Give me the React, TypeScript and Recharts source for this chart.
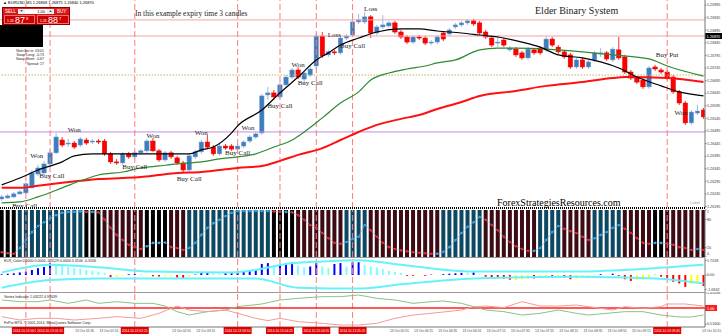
import React from 'react';
import { ComposedChart, Bar, Line, XAxis, YAxis, ReferenceLine, ReferenceDot, Cell } from 'recharts';

// ---------- main price data (EURUSD M5) ----------
const opens = [1.26225,1.26229,1.26233,1.26245,1.26249,1.26269,1.26324,1.26328,1.26364,1.26408,1.26459,1.26443,1.26447,1.26439,1.26459,1.26451,1.26455,1.26455,1.26404,1.26372,1.26368,1.26404,1.26392,1.26408,1.26416,1.26455,1.26416,1.26380,1.26408,1.26388,1.26368,1.26340,1.26392,1.26412,1.26451,1.26431,1.26404,1.26435,1.26435,1.26423,1.26435,1.26455,1.26471,1.26487,1.26638,1.26646,1.26630,1.26678,1.26709,1.26737,1.26701,1.26717,1.26753,1.26872,1.26797,1.26809,1.26805,1.26864,1.26876,1.26928,1.26928,1.26948,1.26884,1.26908,1.26912,1.26924,1.26888,1.26868,1.26848,1.26868,1.26864,1.26844,1.26848,1.26884,1.26880,1.26908,1.26916,1.26924,1.26932,1.26924,1.26888,1.26864,1.26844,1.26856,1.26817,1.26820,1.26805,1.26785,1.26817,1.26824,1.26817,1.26860,1.26828,1.26809,1.26797,1.26749,1.26777,1.26749,1.26777,1.26801,1.26805,1.26777,1.26817,1.26789,1.26729,1.26705,1.26697,1.26670,1.26749,1.26737,1.26729,1.26709,1.26650,1.26606,1.26527,1.26566,1.26578];
const highs = [1.26241,1.26245,1.26253,1.26261,1.26293,1.26340,1.26360,1.26376,1.26420,1.26487,1.26471,1.26463,1.26455,1.26471,1.26467,1.26463,1.26463,1.26463,1.26412,1.26384,1.26412,1.26412,1.26416,1.26423,1.26463,1.26467,1.26423,1.26416,1.26416,1.26396,1.26376,1.26404,1.26420,1.26459,1.26479,1.26439,1.26443,1.26443,1.26443,1.26443,1.26459,1.26479,1.26491,1.26642,1.26670,1.26658,1.26689,1.26717,1.26745,1.26749,1.26733,1.26753,1.26884,1.26888,1.26817,1.26817,1.26872,1.26880,1.26951,1.26959,1.26967,1.26955,1.26916,1.26955,1.26932,1.26932,1.26896,1.26876,1.26876,1.26876,1.26872,1.26856,1.26876,1.26892,1.26904,1.26924,1.26932,1.26940,1.26940,1.26932,1.26896,1.26872,1.26876,1.26864,1.26832,1.26828,1.26813,1.26828,1.26824,1.26832,1.26872,1.26868,1.26836,1.26817,1.26805,1.26785,1.26785,1.26777,1.26813,1.26824,1.26813,1.26828,1.26868,1.26797,1.26737,1.26713,1.26705,1.26753,1.26757,1.26745,1.26737,1.26717,1.26658,1.26614,1.26578,1.26598,1.26586];
const lows = [1.26217,1.26225,1.26229,1.26241,1.26245,1.26265,1.26316,1.26320,1.26356,1.26404,1.26431,1.26431,1.26423,1.26431,1.26439,1.26443,1.26443,1.26396,1.26364,1.26360,1.26360,1.26384,1.26384,1.26400,1.26408,1.26412,1.26372,1.26372,1.26384,1.26360,1.26328,1.26332,1.26384,1.26404,1.26423,1.26396,1.26396,1.26420,1.26416,1.26416,1.26427,1.26447,1.26463,1.26479,1.26618,1.26618,1.26622,1.26670,1.26701,1.26701,1.26681,1.26709,1.26741,1.26785,1.26789,1.26797,1.26797,1.26856,1.26868,1.26920,1.26920,1.26864,1.26876,1.26900,1.26904,1.26880,1.26860,1.26840,1.26840,1.26856,1.26836,1.26836,1.26840,1.26852,1.26872,1.26900,1.26908,1.26916,1.26912,1.26876,1.26860,1.26828,1.26828,1.26828,1.26809,1.26789,1.26777,1.26777,1.26797,1.26797,1.26809,1.26828,1.26801,1.26781,1.26741,1.26741,1.26741,1.26741,1.26769,1.26789,1.26773,1.26769,1.26777,1.26721,1.26697,1.26681,1.26662,1.26662,1.26733,1.26721,1.26697,1.26642,1.26598,1.26519,1.26519,1.26558,1.26543];
const closes = [1.26233,1.26237,1.26245,1.26253,1.26285,1.26328,1.26348,1.26364,1.26408,1.26471,1.26439,1.26447,1.26431,1.26463,1.26447,1.26455,1.26451,1.26404,1.26372,1.26368,1.26404,1.26392,1.26408,1.26416,1.26455,1.26416,1.26380,1.26408,1.26392,1.26368,1.26340,1.26396,1.26412,1.26451,1.26431,1.26404,1.26435,1.26427,1.26423,1.26435,1.26451,1.26471,1.26483,1.26634,1.26646,1.26630,1.26678,1.26709,1.26737,1.26709,1.26725,1.26741,1.26872,1.26793,1.26809,1.26805,1.26864,1.26872,1.26928,1.26936,1.26948,1.26884,1.26908,1.26916,1.26924,1.26888,1.26868,1.26848,1.26868,1.26864,1.26844,1.26848,1.26868,1.26860,1.26896,1.26916,1.26924,1.26932,1.26920,1.26884,1.26868,1.26836,1.26848,1.26836,1.26824,1.26797,1.26785,1.26820,1.26805,1.26805,1.26860,1.26836,1.26809,1.26789,1.26749,1.26777,1.26749,1.26769,1.26805,1.26805,1.26781,1.26820,1.26785,1.26729,1.26705,1.26689,1.26670,1.26745,1.26741,1.26729,1.26705,1.26650,1.26606,1.26527,1.26570,1.26574,1.26551];

// moving averages, read at sample candles: [candle index, price]
const fastMA: [number, number][] = [[0,1.26281],[3,1.26308],[6,1.26340],[10,1.26372],[12,1.26396],[15,1.26404],[23,1.26404],[31,1.26404],[33,1.26420],[35,1.26431],[38,1.26487],[39,1.26515],[43,1.26578],[46,1.26646],[49,1.26709],[52,1.26777],[54,1.26805],[56,1.26836],[59,1.26864],[62,1.26888],[66,1.26900],[69,1.26900],[72,1.26892],[76,1.26884],[79,1.26876],[82,1.26868],[86,1.26848],[89,1.26828],[92,1.26797],[96,1.26785],[99,1.26769],[102,1.26745],[105,1.26709],[109,1.26674],[112,1.26650],[116,1.26634]];
const midMA: [number, number][] = [[0,1.26209],[3,1.26213],[6,1.26233],[10,1.26269],[13,1.26297],[16,1.26320],[20,1.26332],[23,1.26348],[26,1.26356],[29,1.26364],[33,1.26372],[36,1.26384],[39,1.26392],[42,1.26404],[45,1.26431],[48,1.26459],[50,1.26491],[53,1.26547],[56,1.26606],[59,1.26650],[61,1.26697],[64,1.26725],[67,1.26741],[70,1.26753],[72,1.26765],[75,1.26777],[79,1.26817],[82,1.26824],[85,1.26824],[90,1.26820],[96,1.26809],[101,1.26797],[107,1.26781],[110,1.26753],[116,1.26713]];
const slowMA: [number, number][] = [[0,1.26269],[3,1.26269],[6,1.26277],[10,1.26289],[13,1.26297],[16,1.26304],[20,1.26308],[23,1.26312],[26,1.26320],[29,1.26328],[33,1.26332],[36,1.26340],[39,1.26348],[43,1.26356],[46,1.26376],[49,1.26400],[53,1.26427],[56,1.26459],[59,1.26491],[62,1.26519],[66,1.26543],[69,1.26558],[72,1.26582],[76,1.26610],[79,1.26634],[85,1.26654],[90,1.26674],[96,1.26689],[101,1.26705],[103,1.26709],[110,1.26705],[116,1.26689]];

const priceTicks = [1.26195,1.26245,1.26295,1.26345,1.26395,1.26445,1.26495,1.26545,1.26595,1.26645,1.26695,1.26745,1.26795,1.26845,1.26895,1.26945,1.26995];
const currentPrice = 1.26872;
const currentPriceLabel = '1.26870';
const pinkLevels = [1.26936, 1.26872];
const purpleLevel = 1.26491;
const dottedLevel = 1.26717;

// vertical expiry lines (candle index) and their time tags
const vlineIdx = [4, 8, 22, 39, 46, 52, 58, 110];
const vlineLabels = ['2014.10.13 00:55','2014.10.13 01:15','2014.10.13 02:25','2014.10.13 03:50','2014.10.13 04:25','2014.10.13 04:55','2014.10.13 05:25','2014.10.13 09:45'];

const annotations: { i: number; p: number; t: string }[] = [
  { i: 5.8, p: 1.26396, t: 'Won' }, { i: 12, p: 1.26499, t: 'Won' }, { i: 25, p: 1.26475, t: 'Won' },
  { i: 33, p: 1.26487, t: 'Won' }, { i: 40.7, p: 1.26507, t: 'Won' }, { i: 49, p: 1.26757, t: 'Won' },
  { i: 112.3, p: 1.26566, t: 'Won' }, { i: 55, p: 1.26876, t: 'Loss' }, { i: 61, p: 1.26979, t: 'Loss' },
  { i: 3.8, p: 1.26200, t: 'Buy Call' }, { i: 8.3, p: 1.26316, t: 'Buy Call' }, { i: 22, p: 1.26352, t: 'Buy Call' },
  { i: 31, p: 1.26304, t: 'Buy Call' }, { i: 39, p: 1.26408, t: 'Buy Call' }, { i: 46, p: 1.26594, t: 'Buy Call' },
  { i: 51, p: 1.26685, t: 'Buy Call' }, { i: 58, p: 1.26832, t: 'Buy Call' }, { i: 110, p: 1.26797, t: 'Buy Put' },
];

// ---------- stochastic panel ----------
const stochVals = [10,8,7,19,36,53,66,74,83,89,94,96,96,97,96,96,95,80,62,47,36,26,21,17,23,30,30,31,21,19,15,19,30,47,62,72,79,87,94,98,98,98,98,98,98,97,96,96,95,89,79,68,62,51,40,30,28,32,38,43,68,57,43,30,21,17,14,12,10,9,8,7,7,11,21,36,51,64,74,85,79,68,57,43,32,23,17,13,13,19,36,53,66,60,55,51,43,36,40,47,53,62,68,60,51,40,30,28,30,30,28,26,21,19,15,17,15];
const stochState = [0,0,0,1,1,1,1,1,1,1,1,1,1,1,0,0,0,2,2,2,2,2,2,2,0,0,0,0,2,2,2,1,1,1,1,1,1,1,1,1,1,1,1,1,1,0,0,0,0,2,2,2,2,2,2,2,2,1,1,1,1,2,2,2,2,2,2,2,2,2,2,2,2,1,1,1,1,1,1,1,2,2,2,2,2,2,2,2,2,1,1,1,1,2,2,2,2,2,1,1,1,1,1,2,2,2,2,2,0,0,2,2,2,2,2,2,2];
const stochTicks = [0, 20, 80, 100];
const stochTickLabels = ['0', '20', '80', '1'];

// ---------- Elder colour histogram ----------
const elderVals = [0.1,0.15,0.2,0.3,0.4,0.6,0.8,0.95,1.4,1.2,1.1,0.95,0.85,0.75,0.6,0.5,0.4,0.25,-0.25,-0.2,-0.1,0.1,0.12,0.1,-0.05,-0.15,-0.18,-0.12,-0.15,-0.3,-0.35,-0.2,0.05,0.25,0.3,0.2,0.15,0.2,0.25,0.3,0.35,0.5,0.7,1.3,1.4,1.1,1.3,1.4,1.5,1.1,0.9,1.0,1.4,1.0,0.8,1.3,1.4,1.0,1.5,1.5,1.2,1.0,0.9,0.7,0.5,0.35,0.25,-0.1,-0.1,-0.05,-0.1,0.05,-0.05,0.1,0.15,0.2,0.25,0.25,0.3,0.1,-0.2,-0.3,-0.35,-0.45,-0.55,-0.6,-0.5,-0.45,-0.4,-0.3,-0.2,-0.25,-0.15,-0.35,-0.5,-0.45,-0.3,-0.2,0.05,0.1,0.05,0.15,-0.1,-0.5,-0.7,-0.6,-0.55,-0.3,0.1,-0.2,-0.4,-0.8,-1.0,-1.4,-1.1,-0.9,-1.3];
const elderColors = 'BBBBBBBBBCCCCCCCCCRYYBBCYRRYYRRYBBBCCBBBBBBBBCBBBCCBBCCBBCBBCCCCCCCRRYRBYBBBBCBCRRRRRYYYRYYRYRRYYYCBCBRRRYYYCRRRRRYYR'.split('');
const elderUpper: [number, number][] = [[0,0.3],[8,1.2],[16,0.9],[25,0.4],[38,0.3],[42,0.6],[47,1.3],[53,1.6],[59,1.75],[66,1.2],[78,0.4],[95,0.4],[108,0.8],[116,1.2]];
const elderLower: [number, number][] = [[0,-1.5],[8,-0.6],[16,-0.4],[42,-0.4],[49,-1.5],[59,-1.6],[66,-1.1],[78,-0.4],[95,-0.2],[108,-0.4],[116,-1.0]];
const elderTicks = [-1.6942, 0, 1.7018];

// ---------- Vortex ----------
const vortexPlus: [number, number][] = [[0,1.24],[3,1.19],[6,1.19],[8,1.24],[11,1.14],[14,1.24],[16,1.14],[19,1.19],[22,1.14],[25,1.14],[27,1.06],[29,0.89],[31,0.79],[34,0.89],[37,0.94],[39,1.04],[43,1.12],[46,1.24],[49,1.29],[53,1.34],[56,1.34],[59,1.39],[62,1.29],[65,1.24],[68,1.14],[71,1.19],[73,1.21],[76,1.14],[78,1.04],[80,0.94],[83,0.89],[86,0.79],[89,0.84],[92,0.94],[95,0.84],[97,0.79],[100,0.84],[103,0.89],[106,0.89],[109,0.79],[112,0.73],[114,0.73],[116,0.79]];
const vortexMinus: [number, number][] = [[0,0.74],[3,0.64],[6,0.69],[9,0.69],[12,0.64],[16,0.69],[19,0.74],[23,0.69],[26,0.84],[29,1.06],[31,0.94],[34,0.89],[37,0.94],[39,0.84],[42,0.69],[44,0.62],[46,0.69],[49,0.59],[53,0.54],[56,0.49],[59,0.49],[62,0.54],[65,0.69],[68,0.79],[71,0.84],[76,0.94],[78,1.04],[80,1.06],[83,1.01],[86,1.19],[89,1.06],[92,1.06],[95,1.09],[97,1.04],[101,0.94],[103,1.04],[106,0.99],[109,1.04],[110,1.12],[113,1.12],[116,1.06]];
const vortexTicks = [0.516, 1.45036];
const vortexTickLabels = ['0.51600', '1.45036'];

// time axis
const timeTickIdx = [0,4,8,12,16,20,24,28,32,36,40,44,48,52,56,60,64,68,72,76,80,84,88,92,96,100,104,108,112,116];
const timeLabels = ['13 Oct 00:35','13 Oct 00:55','13 Oct 01:15','13 Oct 01:35','13 Oct 01:55','13 Oct 02:15','13 Oct 02:35','13 Oct 02:55','13 Oct 03:15','13 Oct 03:35','13 Oct 03:55','13 Oct 04:15','13 Oct 04:35','13 Oct 04:55','13 Oct 05:15','13 Oct 05:35','13 Oct 05:55','13 Oct 06:15','13 Oct 06:35','13 Oct 06:55','13 Oct 07:15','13 Oct 07:35','13 Oct 07:55','13 Oct 08:15','13 Oct 08:35','13 Oct 08:55','13 Oct 09:15','13 Oct 09:35','13 Oct 09:55','13 Oct 10:15'];

// ---------- build rows ----------
const N = opens.length;
const idx = Array.from({ length: N }, (_, i) => i);
const fm = new Map(fastMA), mm = new Map(midMA), sm = new Map(slowMA);
const um = new Map(elderUpper), lm = new Map(elderLower);
const vpm = new Map(vortexPlus), vmm = new Map(vortexMinus);

const mainData = idx.map((i) => ({
  i, o: opens[i], h: highs[i], l: lows[i], c: closes[i], range: [lows[i], highs[i]],
  fast: fm.has(i) ? fm.get(i) : null, mid: mm.has(i) ? mm.get(i) : null, slow: sm.has(i) ? sm.get(i) : null,
}));
const stochData = idx.map((i) => ({ i, full: 100, st: stochVals[i], state: stochState[i], up: i > 0 && stochVals[i] >= stochVals[i - 1] }));
const elderData = idx.map((i) => ({ i, el: elderVals[i], up: um.has(i) ? um.get(i) : null, lo: lm.has(i) ? lm.get(i) : null }));
const vortexData = idx.map((i) => ({ i, vp: vpm.has(i) ? vpm.get(i) : null, vm: vmm.has(i) ? vmm.get(i) : null }));

const XDOM: [number, number] = [-0.28, 116.25];
const SANS = 'Liberation Sans, Arial, sans-serif';
const SERIF = 'Liberation Serif, Times New Roman, serif';
const STRIPE = ['#000000', '#0d4862', '#3c0b14'];
const EL_COL: Record<string, string> = { B: '#0000ff', C: '#7ffcff', R: '#ff0000', Y: '#ffff00' };

const Candle = (p: any) => {
  const { x, y, width, height, payload } = p;
  if (!payload || x == null || y == null) return null;
  const top = Math.min(y, y + height), hh = Math.abs(height);
  const { o, h, l, c } = payload;
  const k = hh / Math.max(h - l, 1e-9);
  const cx = x + width / 2;
  const yo = top + (h - o) * k, yc = top + (h - c) * k;
  const up = c >= o;
  const bt = Math.min(yo, yc), bh = Math.max(1, Math.abs(yo - yc));
  return (
    <g>
      <line x1={cx} x2={cx} y1={top} y2={top + hh} stroke={up ? '#9dbbe0' : '#ff3030'} strokeWidth={1} />
      <rect x={cx - 2.2} y={bt} width={4.4} height={bh} fill={up ? '#3f7cbc' : '#ff0000'} stroke={up ? '#6d9fd2' : '#e00000'} strokeWidth={0.5} />
    </g>
  );
};

const Stripe = (p: any) => {
  const { x, y, width, height, payload } = p;
  if (!payload) return null;
  const cx = x + width / 2;
  return <rect x={cx - 2} y={y} width={4} height={height} fill={STRIPE[payload.state]} />;
};

const StochDot = (p: any) => {
  const { cx, cy, payload, index } = p;
  if (cx == null || cy == null || !payload) return <g key={index} />;
  return <circle key={index} cx={cx} cy={cy} r={1.3} fill={payload.up ? '#2fa6ee' : '#ff2020'} />;
};

const StochTick = (p: any) => {
  const { x, y, payload } = p;
  const k = stochTicks.indexOf(payload.value);
  const dy = payload.value === 0 ? -2.5 : payload.value === 100 ? 2.5 : 1.3;
  return <text x={x} y={y + dy} fontSize={3.7} fill="#333" fontFamily={SANS}>{stochTickLabels[k]}</text>;
};

const AnnText = (p: any) => {
  const { cx, cy, text } = p;
  if (cx == null || cy == null) return null;
  return <text x={cx} y={cy + 2.4} textAnchor="middle" fontSize={7} fill="#222" fontFamily={SERIF}>{text}</text>;
};

const PriceTag = (props: any) => {
  const vb = props.viewBox;
  if (!vb) return null;
  return (
    <g>
      <rect x={705} y={vb.y - 3} width={17} height={6} fill="#000" />
      <text x={706.5} y={vb.y + 1.5} fontSize={3.8} fill="#fff" fontFamily={SANS}>{currentPriceLabel}</text>
    </g>
  );
};

const LevelTag = (props: any) => {
  const vb = props.viewBox;
  if (!vb) return null;
  return (
    <g>
      <rect x={705} y={vb.y - 3} width={12} height={6} fill="#ff1a1a" />
      <text x={707} y={vb.y + 1.5} fontSize={3.8} fill="#fff" fontFamily={SANS}>1.00</text>
    </g>
  );
};

const TimeTick = (p: any) => {
  const { x, y, payload } = p;
  const v = payload.value;
  const vl = vlineIdx.indexOf(v);
  if (vl >= 0) {
    return (
      <g>
        <rect x={x - 14} y={y} width={28} height={7} fill="#e10000" />
        <text x={x} y={y + 5} fontSize={3.3} fill="#fff" textAnchor="middle" fontFamily={SANS}>{vlineLabels[vl]}</text>
      </g>
    );
  }
  const k = timeTickIdx.indexOf(v);
  const last = k === timeTickIdx.length - 1;
  return <text x={last ? 721 : x + 1} y={y + 5} fontSize={3.3} textAnchor={last ? 'end' : 'start'} fill="#444" fontFamily={SANS}>{timeLabels[k]}</text>;
};

const vLines = (key: string) =>
  vlineIdx.map((v) => <ReferenceLine key={key + v} x={v} stroke="#ff7a7a" strokeWidth={1} strokeDasharray="6 3" />);

const axisTick = { fontSize: 3.7, fill: '#333', fontFamily: SANS };

export default function App() {
  // gray time labels that a red expiry tag would cover are left out
  const freeTicks = timeTickIdx.filter((t) => vlineIdx.every((v) => !(t > v - 5.6 && t < v + 2.4)));
  const xTicks = [...freeTicks, ...vlineIdx];
  return (
    <div style={{ position: 'absolute', left: 0, top: 0, width: 722, height: 335, background: '#fff', overflow: 'hidden' }}>
      {/* main price chart */}
      <div style={{ position: 'absolute', left: 0, top: 0 }}>
        <ComposedChart width={722} height={209} data={mainData} margin={{ top: 0, right: 0, bottom: 1, left: 0 }}>
          <XAxis dataKey="i" type="number" domain={XDOM} hide allowDataOverflow />
          <YAxis orientation="right" width={17} domain={[1.26189, 1.27015]} ticks={priceTicks} interval={0}
            tickFormatter={(v: number) => v.toFixed(5)} tick={axisTick} tickSize={1.5} tickMargin={0.5}
            axisLine={{ stroke: '#777' }} tickLine={{ stroke: '#777' }} allowDataOverflow />
          {pinkLevels.map((lv) => <ReferenceLine key={'pk' + lv} y={lv} stroke="#f0a4a4" strokeWidth={1} />)}
          <ReferenceLine y={currentPrice} stroke="none" label={<PriceTag />} />
          <ReferenceLine y={purpleLevel} stroke="#c48ae6" strokeWidth={1} />
          <ReferenceLine y={dottedLevel} stroke="#b4b46e" strokeWidth={1} strokeDasharray="1.5 1.5" />
          {vLines('m')}
          <Line dataKey="slow" type="monotone" stroke="#ff1010" strokeWidth={2} dot={false} activeDot={false} connectNulls isAnimationActive={false} />
          <Line dataKey="mid" type="monotone" stroke="#2f8a2f" strokeWidth={1.2} dot={false} activeDot={false} connectNulls isAnimationActive={false} />
          <Bar dataKey="range" barSize={4} shape={<Candle />} activeBar={false} isAnimationActive={false} />
          <Line dataKey="fast" type="monotone" stroke="#000" strokeWidth={1.2} dot={false} activeDot={false} connectNulls isAnimationActive={false} />
          {annotations.map((a, k) => (
            <ReferenceDot key={'an' + k} x={a.i} y={a.p} r={1} ifOverflow="visible"
              shape={(sp: any) => <AnnText cx={sp.cx} cy={sp.cy} text={a.t} />} />
          ))}
        </ComposedChart>
      </div>

      {/* stochastic stripes */}
      <div style={{ position: 'absolute', left: 0, top: 209 }}>
        <ComposedChart width={722} height={48} data={stochData} margin={{ top: 1, right: 0, bottom: 0, left: 0 }}>
          <XAxis dataKey="i" type="number" domain={XDOM} hide allowDataOverflow />
          <YAxis orientation="right" width={17} domain={[0, 100]} ticks={stochTicks} interval={0} tick={<StochTick />}
            tickSize={1.5} tickMargin={0.5} axisLine={{ stroke: '#777' }} tickLine={{ stroke: '#777' }} />
          <Bar dataKey="full" barSize={4} shape={<Stripe />} activeBar={false} isAnimationActive={false} />
          {vLines('s')}
          <Line dataKey="st" type="linear" stroke="#7fb6dc" strokeWidth={0.6} dot={<StochDot />} activeDot={false} isAnimationActive={false} />
        </ComposedChart>
      </div>

      {/* Elder colour histogram */}
      <div style={{ position: 'absolute', left: 0, top: 257 }}>
        <ComposedChart width={722} height={36} data={elderData} margin={{ top: 1, right: 0, bottom: 1, left: 0 }}>
          <XAxis dataKey="i" type="number" domain={XDOM} hide allowDataOverflow />
          <YAxis orientation="right" width={17} domain={[-2, 2]} ticks={elderTicks} interval={0}
            tickFormatter={(v: number) => (v === 0 ? '0.00' : String(v))} tick={axisTick} tickSize={1.5} tickMargin={0.5}
            axisLine={{ stroke: '#777' }} tickLine={{ stroke: '#777' }} />
          {vLines('e')}
          <Line dataKey="up" type="monotone" stroke="#66f2fa" strokeWidth={2} dot={false} activeDot={false} connectNulls isAnimationActive={false} />
          <Line dataKey="lo" type="monotone" stroke="#66f2fa" strokeWidth={2} dot={false} activeDot={false} connectNulls isAnimationActive={false} />
          <Bar dataKey="el" barSize={2} activeBar={false} isAnimationActive={false}>
            {idx.map((i) => <Cell key={i} fill={EL_COL[elderColors[i]]} />)}
          </Bar>
        </ComposedChart>
      </div>

      {/* Vortex indicator + time axis */}
      <div style={{ position: 'absolute', left: 0, top: 292 }}>
        <ComposedChart width={722} height={43} data={vortexData} margin={{ top: 1, right: 0, bottom: 0, left: 0 }}>
          <XAxis dataKey="i" type="number" domain={XDOM} allowDataOverflow height={8} ticks={xTicks} interval={0}
            tick={<TimeTick />} tickLine={false} tickSize={0} tickMargin={0} axisLine={{ stroke: '#777' }} />
          <YAxis orientation="right" width={17} domain={[0.43, 1.45]} ticks={vortexTicks} interval={0}
            tickFormatter={(v: number) => vortexTickLabels[vortexTicks.indexOf(v)]} tick={axisTick} tickSize={1.5} tickMargin={0.5}
            axisLine={{ stroke: '#777' }} tickLine={{ stroke: '#777' }} allowDataOverflow />
          {vLines('v')}
          <ReferenceLine y={1} stroke="#ff2020" strokeWidth={1.5} label={<LevelTag />} />
          <Line dataKey="vp" type="linear" stroke="#86c486" strokeWidth={1} dot={false} activeDot={false} connectNulls isAnimationActive={false} />
          <Line dataKey="vm" type="linear" stroke="#f59a9a" strokeWidth={1} dot={false} activeDot={false} connectNulls isAnimationActive={false} />
        </ComposedChart>
      </div>

      {/* panel separators */}
      <div style={{ position: 'absolute', left: 0, top: 207, width: 705, height: 2, background: 'repeating-linear-gradient(90deg,#000 0 1px,#fff 1px 2px)' }} />
      <div style={{ position: 'absolute', left: 0, top: 257, width: 705, height: 1, background: '#999' }} />
      <div style={{ position: 'absolute', left: 0, top: 292, width: 705, height: 1, background: '#999' }} />

      {/* header line and trade panel */}
      <div style={{ position: 'absolute', left: 3, top: 0, fontFamily: SANS, fontSize: 4, color: '#000', whiteSpace: 'nowrap', lineHeight: '6px' }}>
        ▲ EURUSD,M5 1.26868 1.26875 1.26840 1.26870
      </div>
      <div style={{ position: 'absolute', left: 2, top: 7, width: 68, height: 18, background: 'linear-gradient(#e42323,#b70000)', border: '1px solid #8a0000', boxSizing: 'border-box', fontFamily: SANS, color: '#fff' }}>
        <div style={{ position: 'absolute', left: 2, top: 1, fontSize: 4.5, lineHeight: '5px' }}>SELL</div>
        <div style={{ position: 'absolute', left: 15, top: 0.5, width: 7, height: 5, background: '#eee', color: '#333', fontSize: 3.5, lineHeight: '5px', textAlign: 'center' }}>▼</div>
        <div style={{ position: 'absolute', left: 22, top: 0.5, width: 22, height: 5, background: '#fff', color: '#000', fontSize: 4, lineHeight: '5px', textAlign: 'right', paddingRight: 2, boxSizing: 'border-box' }}>1.00</div>
        <div style={{ position: 'absolute', left: 44, top: 0.5, width: 7, height: 5, background: '#eee', color: '#333', fontSize: 3.5, lineHeight: '5px', textAlign: 'center' }}>▲</div>
        <div style={{ position: 'absolute', left: 54, top: 1, fontSize: 4.5, lineHeight: '5px' }}>BUY</div>
        <div style={{ position: 'absolute', left: 1, top: 7, width: 31, height: 9, background: '#cc0000', border: '0.5px solid #ff6a6a', boxSizing: 'border-box', whiteSpace: 'nowrap' }}>
          <span style={{ position: 'absolute', left: 2, top: 3, fontSize: 3.5 }}>1.26</span>
          <span style={{ position: 'absolute', left: 10, top: -1, fontSize: 9, lineHeight: '10px' }}>87</span>
          <span style={{ position: 'absolute', left: 21, top: 0, fontSize: 4 }}>8</span>
        </div>
        <div style={{ position: 'absolute', left: 34, top: 7, width: 32, height: 9, background: '#cc0000', border: '0.5px solid #ff6a6a', boxSizing: 'border-box', whiteSpace: 'nowrap' }}>
          <span style={{ position: 'absolute', left: 2, top: 3, fontSize: 3.5 }}>1.26</span>
          <span style={{ position: 'absolute', left: 10, top: -1, fontSize: 9, lineHeight: '10px' }}>88</span>
          <span style={{ position: 'absolute', left: 21, top: 0, fontSize: 4 }}>7</span>
        </div>
      </div>
      <div style={{ position: 'absolute', left: 0, top: 25, width: 43, height: 22, background: '#000' }} />
      <div style={{ position: 'absolute', left: 4, top: 49, width: 40, fontFamily: SANS, fontSize: 3.5, lineHeight: '4.2px', color: '#222', textAlign: 'right', whiteSpace: 'nowrap' }}>
        <div>Next bar in: 03:01</div>
        <div>Swap Long: -0.73</div>
        <div>Swap Short: -0.67</div>
        <div>Spread: 17</div>
      </div>

      {/* chart texts */}
      <div style={{ position: 'absolute', left: 135, top: 9, fontFamily: SERIF, fontSize: 7.5, lineHeight: '9px', color: '#222', whiteSpace: 'nowrap' }}>In this example expiry time 3 candles</div>
      <div style={{ position: 'absolute', left: 535, top: 5, fontFamily: SERIF, fontSize: 10, lineHeight: '12px', color: '#222', whiteSpace: 'nowrap' }}>Elder Binary System</div>
      <div style={{ position: 'absolute', left: 497, top: 197, fontFamily: SERIF, fontSize: 10, lineHeight: '12px', color: '#000', whiteSpace: 'nowrap' }}>ForexStrategiesResources.com</div>
      <div style={{ position: 'absolute', left: 690, top: 200, fontFamily: SANS, fontSize: 4, color: '#999' }}>Label</div>
      <div style={{ position: 'absolute', left: 4, top: 259, fontFamily: SANS, fontSize: 3.6, color: '#222', whiteSpace: 'nowrap' }}>ELR_Color 0.0000 0.0000 -0.3129 0.0000 0.3106 -0.3106</div>
      <div style={{ position: 'absolute', left: 4, top: 295, fontFamily: SANS, fontSize: 3.6, color: '#222', whiteSpace: 'nowrap' }}>Vortex Indicator 1.03222 0.97639</div>
      <div style={{ position: 'absolute', left: 4, top: 321, fontFamily: SANS, fontSize: 3.6, color: '#222', whiteSpace: 'nowrap' }}>FxPro MT4, © 2001-2014, MetaQuotes Software Corp.</div>
    </div>
  );
}
